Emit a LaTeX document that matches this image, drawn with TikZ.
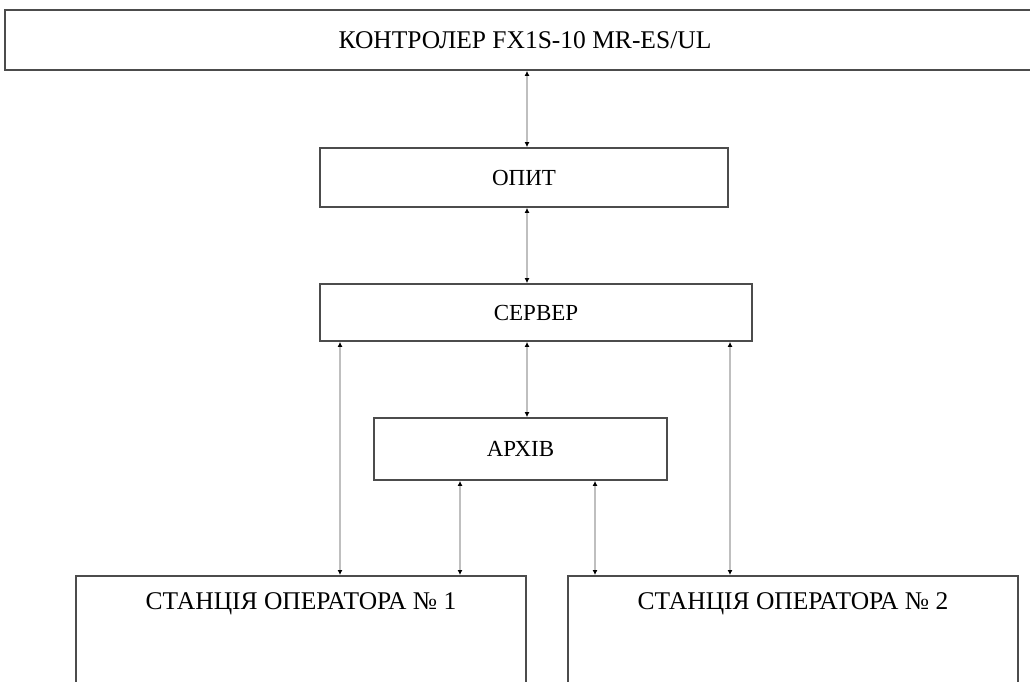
\documentclass[tikz,border=0pt]{standalone}
\usepackage{fontspec}
\setmainfont{Liberation Serif}
\usepackage{tikz}
\usetikzlibrary{arrows.meta,positioning}

\begin{document}
\begin{tikzpicture}[
    x=1pt, y=-1pt,
    box/.style={draw=black!70, line width=1.8pt, fill=white, minimum height=58pt, align=center, font=\fontsize{23}{26}\selectfont},
    bigbox/.style={box, font=\fontsize{25.5}{28}\selectfont},
    station/.style={bigbox, anchor=north, text height=30pt, text depth=130pt, inner ysep=4pt},
    link/.style={{Latex[length=5pt,width=5pt,color=black]}-{Latex[length=5pt,width=5pt,color=black]}, draw=black!25, line width=2pt}
]
\useasboundingbox (0,0) rectangle (1030,681);
\clip (0,0) rectangle (1030,681);

\node[bigbox, minimum width=1040pt, minimum height=60pt] (ctrl) at (525,40) {КОНТРОЛЕР FX1S-10 MR-ES/UL};
\node[box, minimum width=408pt, minimum height=59pt] (opyt) at (524,177.5) {ОПИТ};
\node[box, minimum width=432pt, minimum height=57pt] (srv) at (536,312.5) {СЕРВЕР};
\node[box, minimum width=293pt, minimum height=62pt] (arch) at (520.5,449) {АРХІВ};
\node[station, minimum width=450pt] (st1) at (301,575) {СТАНЦІЯ ОПЕРАТОРА № 1};
\node[station, minimum width=450pt] (st2) at (793,575) {СТАНЦІЯ ОПЕРАТОРА № 2};

\draw[link] (ctrl.south -| 527,0) -- (opyt.north -| 527,0);
\draw[link] (opyt.south -| 527,0) -- (srv.north -| 527,0);
\draw[link] (srv.south -| 527,0) -- (arch.north -| 527,0);
\draw[link] (srv.south -| 340,0) -- (st1.north -| 340,0);
\draw[link] (srv.south -| 730,0) -- (st2.north -| 730,0);
\draw[link] (arch.south -| 460,0) -- (st1.north -| 460,0);
\draw[link] (arch.south -| 595,0) -- (st2.north -| 595,0);
\end{tikzpicture}
\end{document}
